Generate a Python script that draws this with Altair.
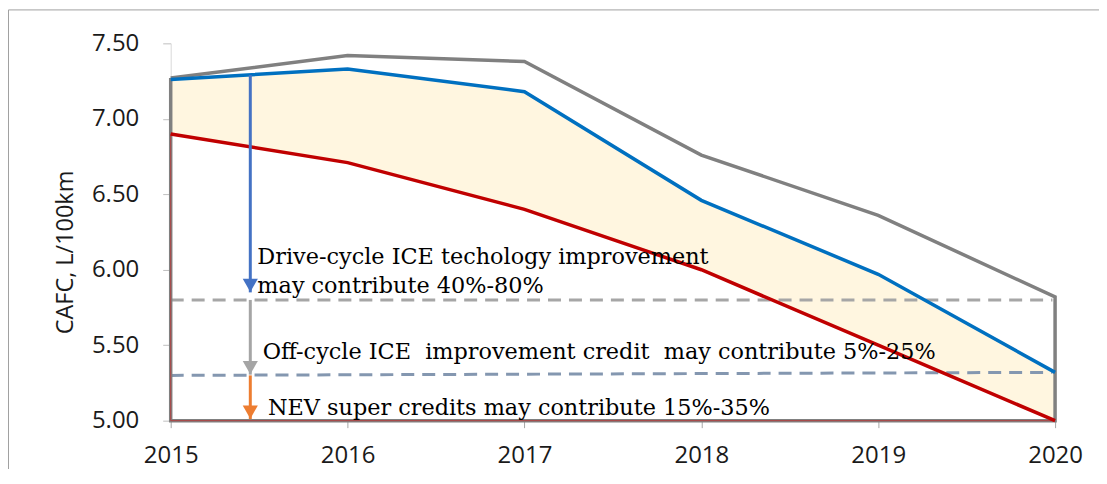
import altair as alt
import pandas as pd

years = [2015, 2016, 2017, 2018, 2019, 2020]
gray_vals = [7.27, 7.42, 7.38, 6.76, 6.36, 5.82]
blue_vals = [7.26, 7.33, 7.18, 6.46, 5.97, 5.32]
red_vals = [6.90, 6.71, 6.40, 6.00, 5.50, 5.00]
y_ticks = [5.0, 5.5, 6.0, 6.5, 7.0, 7.5]

dash_levels_start = [5.80, 5.30]
dash_levels_end = [5.80, 5.32]
dash_colors = ["#A6A6A6", "#8497B0"]

arrow_x = 2015.45
arrow_start = [7.29, 5.80, 5.30]
arrow_end = [5.85, 5.305, 5.01]
arrow_colors = ["#4472C4", "#A5A5A5", "#ED7D31"]

label_texts = [
    "Drive-cycle ICE techology improvement",
    "may contribute 40%-80%",
    "Off-cycle ICE\u00a0 improvement credit\u00a0 may contribute 5%-25%",
    "NEV super credits may contribute 15%-35%",
]
label_x = [2015.49, 2015.49, 2015.52, 2015.55]
label_y = [6.04, 5.846, 5.41, 5.04]

FONT = "Open Sans"
SERIF = "DejaVu Serif"

xs = alt.Scale(domain=[2015, 2020], nice=False, zero=False)
ys = alt.Scale(domain=[5.0, 7.5], nice=False, zero=False)

x_axis = alt.Axis(values=years, format="d", title=None, grid=False,
                  domainColor="#A6A6A6", tickColor="#A6A6A6", tickSize=7,
                  labelFont=FONT, labelFontSize=24, labelColor="#1A1A1A",
                  labelPadding=16, labelFlush=False)
y_axis = alt.Axis(values=y_ticks, format=".2f", title="CAFC, L/100km", grid=False,
                  domainColor="#D9D9D9", tickColor="#BFBFBF", tickSize=8,
                  labelFont=FONT, labelFontSize=24, labelColor="#1A1A1A",
                  labelPadding=24, titleFont=FONT, titleFontSize=23.5,
                  titleFontWeight="normal", titleColor="#1A1A1A", titlePadding=14,
                  titleY=209)


def X(field):
    return alt.X(field, scale=xs, axis=x_axis, title=None)


def Y(field):
    return alt.Y(field, scale=ys, axis=y_axis, title="CAFC, L/100km")


df = pd.DataFrame({"year": years, "gray": gray_vals, "blue": blue_vals, "red": red_vals})

band = alt.Chart(df).mark_area(color="#FFF6E0", opacity=1).encode(
    x=X("year:Q"), y=Y("blue:Q"), y2="red:Q",
)

poly_x = years + [2020, 2015, 2015]
poly_y = gray_vals + [5.0, 5.0, gray_vals[0]]
poly = pd.DataFrame({"x": poly_x, "y": poly_y, "o": list(range(len(poly_x)))})
gray_line = alt.Chart(poly).mark_line(color="#808080", strokeWidth=3.5).encode(
    x=X("x:Q"), y=Y("y:Q"), order="o:Q",
)

blue_line = alt.Chart(df).mark_line(color="#0070C0", strokeWidth=3.5).encode(
    x=X("year:Q"), y=Y("blue:Q"),
)
red_line = alt.Chart(df).mark_line(color="#C00000", strokeWidth=3.5).encode(
    x=X("year:Q"), y=Y("red:Q"),
)
red_close = pd.DataFrame({"x": [2020, 2015, 2015], "y": [5.0, 5.0, red_vals[0]], "o": [0, 1, 2]})
red_thin = alt.Chart(red_close).mark_line(color="#B04040", strokeWidth=1).encode(
    x=X("x:Q"), y=Y("y:Q"), order="o:Q",
)

dash_df = pd.DataFrame({"x": [2015, 2015], "x2": [2019.985, 2019.985],
                        "y": dash_levels_start, "y2": dash_levels_end, "c": dash_colors})
dashes = alt.Chart(dash_df).mark_rule(strokeWidth=3, strokeDash=[13, 8]).encode(
    x=X("x:Q"), x2="x2:Q", y=Y("y:Q"), y2="y2:Q",
    color=alt.Color("c:N", scale=None),
)

arr_df = pd.DataFrame({"x": [arrow_x] * 3, "y": arrow_start, "y2": arrow_end, "c": arrow_colors})
arrow_shafts = alt.Chart(arr_df).mark_rule(strokeWidth=3).encode(
    x=X("x:Q"), y=Y("y:Q"), y2="y2:Q",
    color=alt.Color("c:N", scale=None),
)
arrow_heads = alt.Chart(arr_df).mark_point(shape="triangle-down", size=230, filled=True,
                                           opacity=1, yOffset=-7).encode(
    x=X("x:Q"), y=Y("y2:Q"),
    color=alt.Color("c:N", scale=None),
)

lab_df = pd.DataFrame({"x": label_x, "y": label_y, "t": label_texts})
labels = alt.Chart(lab_df).mark_text(font=SERIF, fontSize=22.4, align="left",
                                     baseline="alphabetic", color="#000000").encode(
    x=X("x:Q"), y=Y("y:Q"), text="t:N",
)

border = alt.Chart(pd.DataFrame({"a": [0]})).mark_rect(
    fill="transparent", stroke="#A0A0A0", strokeWidth=1
).encode(x=alt.value(-162.5), x2=alt.value(1100), y=alt.value(-33.5), y2=alt.value(600))

chart = alt.layer(
    border, band, dashes, gray_line, red_thin, blue_line, red_line,
    arrow_shafts, arrow_heads, labels
).properties(
    width=886, height=378,
    autosize=alt.AutoSizeParams(type="none"),
    padding={"left": 163, "top": 35, "right": 44, "bottom": 48},
    background="white",
).configure_view(stroke=None)

chart.save("out.html", embed_options={"renderer": "svg", "actions": False})
